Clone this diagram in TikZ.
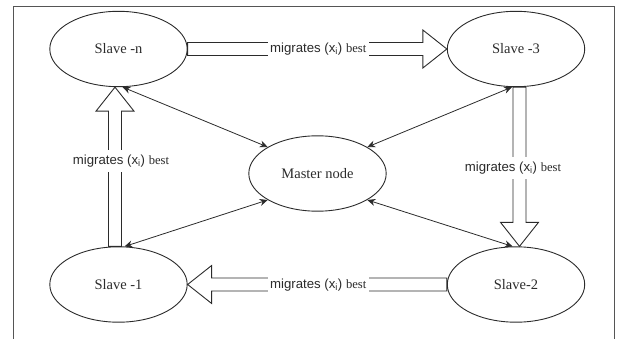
\documentclass[tikz,border=0pt]{standalone}
\usepackage{fontspec}
\setmainfont{Liberation Serif}
\setsansfont{Liberation Sans}
\usetikzlibrary{calc,arrows.meta,shapes.geometric}
\definecolor{ink}{HTML}{2B2B2B}
\newcommand\migarrow[2]{%
  \coordinate (mA) at (#1);
  \coordinate (mB) at (#2);
  \coordinate (mC) at ($(mB)!24pt!(mA)$);
  \draw[hollow] ($(mA)!6.5pt!90:(mB)$) -- ($(mC)!6.5pt!-90:(mA)$)
    -- ($(mC)!19pt!-90:(mA)$) -- (mB) -- ($(mC)!19pt!90:(mA)$)
    -- ($(mC)!6.5pt!90:(mA)$) -- ($(mA)!6.5pt!-90:(mB)$) -- cycle;
}
\tikzset{
  slave/.style={ellipse, draw=ink, line width=0.9pt, minimum width=137.4pt,
    minimum height=75.4pt, inner sep=0pt, text=ink,
    font=\fontsize{14.5}{16}\selectfont},
  hollow/.style={draw=ink, line width=0.9pt, fill=white, line join=miter},
  miglabel/.style={fill=white, inner xsep=2.5pt, inner ysep=5pt, text=ink,
    font=\fontsize{13.2}{15}\selectfont\sffamily},
  dbl/.style={draw=ink, line width=0.8pt,
    {Stealth[length=8pt,width=7pt]}-{Stealth[length=8pt,width=7pt]}},
  frame/.style={draw=ink!80, line width=0.9pt}
}
\begin{document}
\begin{tikzpicture}[x=1pt,y=-1pt]
\useasboundingbox (0,0) rectangle (623,339);
\coordinate (fbl) at (13,339);
\coordinate (ftl) at (13,6);
\coordinate (ftr) at (614,6);
\coordinate (fbr) at (614,339);
\draw[frame] (fbl) -- (ftl) -- (ftr) -- (fbr);

\node[slave] (sn) at (118.5,49) {Slave -n};
\node[slave] (s3) at (516,49) {Slave -3};
\node[slave] (m)  at (317.5,173.5) {Master node};
\node[slave] (s1) at (118.5,284.5) {Slave -1};
\node[slave] (s2) at (516,284.5) {Slave-2};

\migarrow{sn.east}{s3.west}
\migarrow{s2.west}{s1.east}
\migarrow{$(s1.north)+(-3.5,0)$}{$(sn.south)+(-3.5,0)$}
\migarrow{$(s3.south)+(3.5,0)$}{$(s2.north)+(3.5,0)$}

\newcommand\migtext{migrates (x\textsubscript{i}) {\rmfamily\fontsize{12.6}{15}\selectfont best}}
\node[miglabel] (lt) at ($(sn)!0.5!(s3)+(1,0)$) {\migtext};
\node[miglabel] (lb) at ($(s1)!0.5!(s2)+(1,0.5)$) {\migtext};
\node[miglabel] (ll) at ($(sn)!0.5!(s1)+(2.5,-6)$) {\migtext};
\node[miglabel] (lr) at ($(s3)!0.5!(s2)+(-3,1.25)$) {\migtext};

\draw[dbl] (sn.-84) -- (m.152);
\draw[dbl] (s3.-96) -- (m.28);
\draw[dbl] (s1.81) -- (m.208);
\draw[dbl] (s2.95) -- (m.-28);
\end{tikzpicture}
\end{document}
